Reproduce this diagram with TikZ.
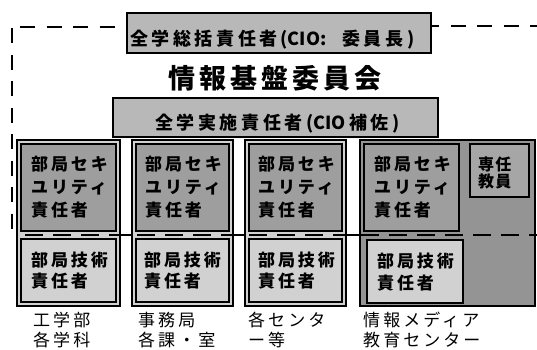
\documentclass[tikz,border=0pt]{standalone}
\usepackage{fontspec}
\setmainfont{Noto Sans CJK JP}
\newcommand{\nols}[1]{{\addfontfeature{LetterSpace=0}#1}}
\begin{document}
\begin{tikzpicture}[x=1pt,y=-1pt,
  topbox/.style={draw=black, line width=1.8pt, fill=black!28},
  colbox/.style={draw=black, line width=2.6pt, fill=black!18},
  colboxdark/.style={draw=black, line width=2.6pt, fill=black!42},
  secbox/.style={draw=black, line width=1.2pt, fill=black!38},
  senbox/.style={draw=black, line width=1.4pt, fill=black!35},
  techbox/.style={draw=black, line width=1.2pt, fill=black!18},
  dline/.style={line width=2.6pt, dash pattern=on 15pt off 11.5pt},
  midline/.style={line width=2.6pt, dash pattern=on 18pt off 10pt, dash phase=20pt},
  txt/.style={anchor=base west, inner sep=0pt},
  ttop/.style={txt, font=\fontsize{18}{20}\selectfont\bfseries\addfontfeature{LetterSpace=20}},
  ttitle/.style={txt, font=\fontsize{27}{30}\selectfont\bfseries\addfontfeature{LetterSpace=15}},
  tcol/.style={txt, font=\fontsize{17}{20}\selectfont\bfseries\addfontfeature{LetterSpace=17}},
  tsen/.style={txt, font=\fontsize{16}{18}\selectfont\bfseries\addfontfeature{LetterSpace=8}},
  tlab/.style={txt, font=\fontsize{17}{20}\selectfont\addfontfeature{LetterSpace=18}}
]
\useasboundingbox (0,0) rectangle (537,349);

% committee dashed frame
\coordinate (tl1) at (115,27);
\coordinate (tl2) at (20,27);
\coordinate (vl1) at (12,28);
\coordinate (vl2) at (12,233);
\coordinate (tr1) at (431,26);
\coordinate (tr2) at (537,26);
\coordinate (ml1) at (17,235);
\coordinate (ml2) at (537,235);
\draw[dline] (tl2) -- (tl1);
\draw[dline] (vl1) -- (vl2);
\draw[dline, dash phase=7pt] (tr1) -- (tr2);
\draw[line width=1.8pt] (ml1) -- (ml2);

% top boxes
\path[topbox] (127,13) rectangle (431,53);
\node[ttop] (cio) at (130,45) {全学総括責任者\,(\nols{CIO:}\ \ 委員長)};
\node[ttitle] (iinkai) at (168,88) {情報基盤委員会};
\path[topbox] (113,98) rectangle (438,137);
\node[ttop] (hosa) at (155,129) {全学実施責任者(\nols{CIO}\,補佐)};

% column 1
\path[colbox] (17,140) rectangle (120,306);
\path[secbox] (21,144) rectangle (116,231);
\path[techbox] (21,239) rectangle (116,302);
% column 2
\path[colbox] (132,140) rectangle (233,306);
\path[secbox] (136,144) rectangle (229,231);
\path[techbox] (136,239) rectangle (229,302);
% column 3
\path[colbox] (245,140) rectangle (346,306);
\path[secbox] (249,144) rectangle (342,231);
\path[techbox] (249,239) rectangle (342,302);
% column 4
\path[colboxdark] (360,140) rectangle (535,306);
\path[secbox] (364,144) rectangle (459,231);
\path[senbox] (470,144) rectangle (529,197);
\path[techbox, line width=1.8pt] (367,240) rectangle (463,303);

% middle dashed line
\draw[midline] (ml1) -- (ml2);

% column texts
\foreach \x/\n in {31/a, 145/b, 258/c, 374/d}{
  \node[tcol] (sec\n1) at (\x,170) {部局セキ};
  \node[tcol] (sec\n2) at (\x,193) {ユリティ};
  \node[tcol] (sec\n3) at (\x,216) {責任者};
}
\foreach \x/\n in {31/a, 144/b, 258/c}{
  \node[tcol] (tech\n1) at (\x,266) {部局技術};
  \node[tcol] (tech\n2) at (\x,287) {責任者};
}
\node[tcol] (techd1) at (377,267) {部局技術};
\node[tcol] (techd2) at (377,289) {責任者};
\node[tsen] (sen1) at (478,170) {専任};
\node[tsen] (sen2) at (478,187) {教員};

% labels
\node[tlab] (la1) at (33,326) {工学部};
\node[tlab] (la2) at (33,346) {各学科};
\node[tlab] (lb1) at (138,326) {事務局};
\node[tlab] (lb2) at (138,346) {各課・室};
\node[tlab] (lc1) at (248,326) {各センタ};
\node[tlab] (lc2) at (248,346) {ー等};
\node[tlab] (ld1) at (363,326) {情報メディア};
\node[tlab] (ld2) at (363,346) {教育センター};
\end{tikzpicture}
\end{document}
